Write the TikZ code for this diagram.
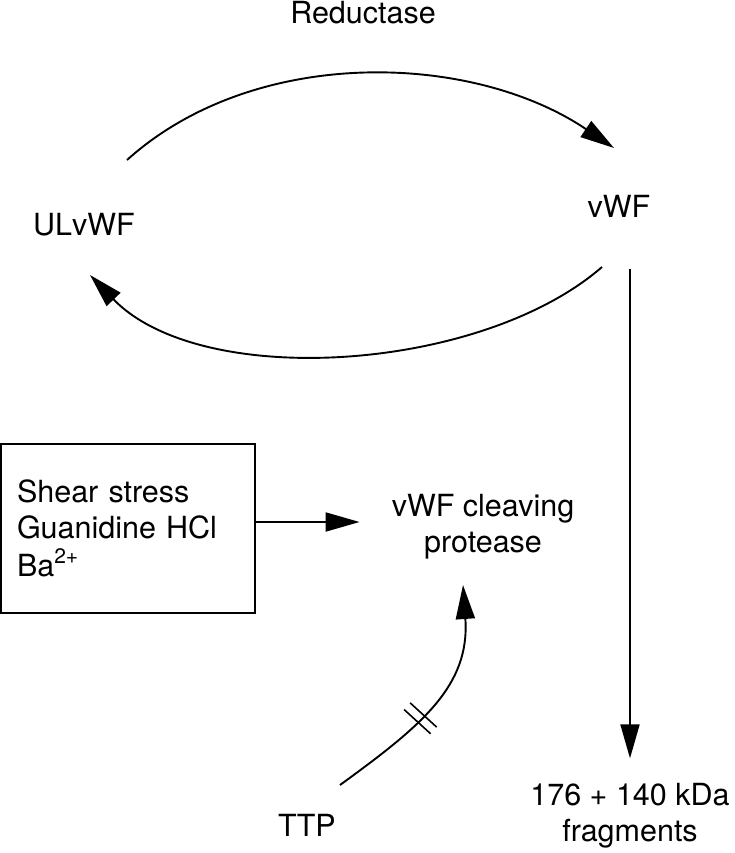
\documentclass[tikz,border=0pt]{standalone}
\usepackage{fontspec}
\setmainfont{TeX Gyre Heros}
\usetikzlibrary{arrows.meta,calc,positioning,decorations.markings}

\begin{document}
\begin{tikzpicture}[x=1pt,y=1pt,
  term/.style={font=\fontsize{30.5}{36}\selectfont, inner sep=0pt, align=center},
  flow/.style={line width=1.9pt, -{Triangle[length=34pt,width=19pt]}},
  blocked/.style={postaction={decorate}, decoration={markings,
    mark=at position 0.42 with {\draw[line width=1.6pt,-] (-4.5,-18) -- (-4.5,18) (4.5,-18) -- (4.5,18);}}}]
\useasboundingbox (0,0) rectangle (734,-853);

\node[term] (reductase) at (363,-13) {Reductase};
\node[term] (ulvwf) at (84,-225) {ULvWF};
\node[term] (vwf) at (619,-206) {vWF};
\node[term, draw, line width=1.9pt, align=left, text width=222pt, inner xsep=16pt,
  minimum height=169pt] (stimuli) at (128,-528.5)
  {Shear stress\\Guanidine HCl\\[2pt]Ba\raisebox{13pt}[0pt][0pt]{\fontsize{21}{21}\selectfont 2+}};
\node[term] (protease) at (483,-527) {vWF cleaving\\protease};
\node[term] (ttp) at (307,-825) {TTP};
\node[term] (fragments) at (630,-816) {176 + 140 kDa\\fragments};

% reduction cycle
\draw[flow] ([shift={(43,65)}]ulvwf.center) to[out=42,in=146,looseness=0.9] ([shift={(-5,58)}]vwf.center);
\draw[flow] ([shift={(-17,-61)}]vwf.center) to[out=221,in=-46,looseness=0.8] ([shift={(6,-50)}]ulvwf.center);

% cleavage
\draw[flow] ([yshift=-52pt]fragments.north |- vwf.south) -- ([yshift=25pt]fragments.north);
\draw[flow] ($(stimuli.east)+(0,6.5)$) -- ($(protease.west |- stimuli.east)+(-32,6.5)$);
\draw[flow,blocked] ([shift={(33,40)}]ttp.center) to[out=36,in=-86,looseness=1.1] ([shift={(-20,-58)}]protease.center);
\end{tikzpicture}
\end{document}
